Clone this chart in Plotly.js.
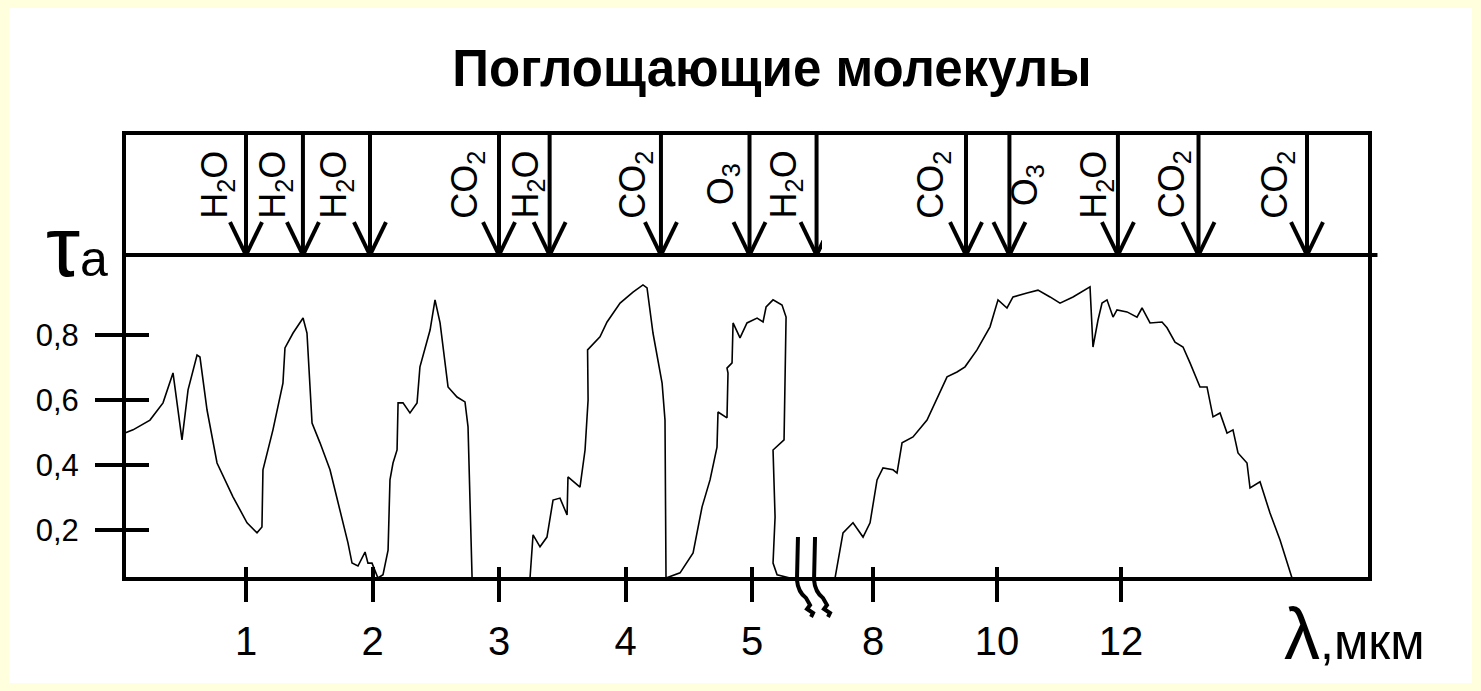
<!DOCTYPE html>
<html>
<head>
<meta charset="utf-8">
<script src="https://cdn.plot.ly/plotly-3.0.1.min.js"></script>
<style>html,body{margin:0;padding:0;background:#FFFFDD;}</style>
</head>
<body>
<div id="chart" style="width:1481px;height:691px;"></div>
<script>
// ---- data: absorption τa vs wavelength λ (µm) ----
const lambdaShort = [0.043,0.107,0.241,0.344,0.423,0.494,0.542,0.613,0.636,0.692,0.771,0.897,1.008,1.087,1.126,1.134,1.213,1.292,1.308,1.372,1.451,1.482,1.522,1.585,1.664,1.743,1.806,1.838,1.885,1.941,1.964,1.996,2.043,2.083,2.123,2.138,2.162,2.194,2.202,2.241,2.296,2.352,2.375,2.455,2.494,2.534,2.597,2.668,2.731,2.755,2.787,3.245,3.269,3.324,3.379,3.427,3.482,3.538,3.545,3.640,3.680,3.704,3.700,3.798,3.854,3.957,4.059,4.138,4.170,4.217,4.289,4.312,4.320,4.431,4.534,4.605,4.668,4.723,4.731,4.802,4.810,4.802,4.842,4.850,4.905,4.960,5.040,5.087,5.111,5.166,5.237,5.269,5.261,5.253,5.166,5.182,5.166,5.198,5.300];
const tauShort = [0.498,0.508,0.538,0.591,0.683,0.477,0.631,0.738,0.732,0.569,0.406,0.302,0.222,0.191,0.209,0.385,0.508,0.652,0.760,0.806,0.852,0.806,0.529,0.468,0.385,0.262,0.160,0.098,0.089,0.132,0.098,0.098,0.052,0.062,0.138,0.354,0.406,0.446,0.591,0.591,0.560,0.591,0.702,0.815,0.908,0.837,0.640,0.609,0.594,0.517,0.052,0.052,0.185,0.148,0.178,0.292,0.298,0.246,0.363,0.332,0.446,0.600,0.754,0.794,0.840,0.898,0.932,0.954,0.945,0.806,0.652,0.538,0.052,0.068,0.129,0.271,0.354,0.455,0.563,0.545,0.683,0.698,0.714,0.837,0.791,0.837,0.852,0.840,0.886,0.908,0.892,0.855,0.609,0.477,0.446,0.240,0.098,0.062,0.052];

const lambdaLong = [7.387,7.516,7.677,7.839,7.952,8.065,8.161,8.323,8.387,8.468,8.645,8.871,9.194,9.355,9.484,9.677,9.887,10.016,10.161,10.258,10.484,10.661,10.855,11.016,11.226,11.500,11.548,11.629,11.694,11.774,11.871,11.935,12.097,12.258,12.339,12.468,12.661,12.742,12.871,13.000,13.113,13.274,13.387,13.484,13.597,13.710,13.806,13.887,14.032,14.081,14.242,14.403,14.565,14.677,14.758];
const tauLong = [0.052,0.191,0.222,0.178,0.222,0.354,0.391,0.385,0.375,0.468,0.486,0.538,0.671,0.686,0.702,0.754,0.825,0.908,0.883,0.917,0.929,0.938,0.917,0.898,0.917,0.948,0.763,0.846,0.898,0.908,0.855,0.877,0.871,0.855,0.883,0.837,0.840,0.822,0.778,0.763,0.714,0.640,0.640,0.548,0.560,0.498,0.508,0.437,0.406,0.329,0.348,0.252,0.169,0.098,0.052];

// absorbing molecules and the wavelength of their band (µm)
const molecules = ['H<sub>2</sub>O','H<sub>2</sub>O','H<sub>2</sub>O','CO<sub>2</sub>','H<sub>2</sub>O','CO<sub>2</sub>','O<sub>3</sub>','H<sub>2</sub>O','CO<sub>2</sub>','O<sub>3</sub>','H<sub>2</sub>O','CO<sub>2</sub>','CO<sub>2</sub>'];
const bandWave = [1.0,1.45,1.98,3.0,3.4,4.28,4.98,5.51,9.5,10.2,11.95,13.25,15.0];

// tick labels
const shortTicks = [1,2,3,4,5];
const longTicks = [8,10,12];
const tauTicks = [0.2,0.4,0.6,0.8];
const tauTickText = ['0,2','0,4','0,6','0,8'];

// ---- layout helpers ----
const L = 124, R = 1370, T = 133, B = 579;
const P = (px, py) => ((px - L) / (R - L)).toFixed(4) + ',' + ((B - py) / (B - T)).toFixed(4);
const yRange = [0.049, 1.4215];
const ySep = 1.046;
const xRangeShort = [0.0356, 5.553];
const xRangeLong = [7.177, 16.016];
const splitAt = (822 - L) / (R - L);
const FONT = 'Liberation Sans, Arial, sans-serif';
const labelOffsetPx = [-29,-28,-34,-32,-22,-26,-27,-31,-33,17,-22,-25,-30];

const traces = [
  {x: lambdaShort, y: tauShort, xaxis: 'x', yaxis: 'y', mode: 'lines', line: {color: '#000', width: 1.6}, hoverinfo: 'skip'},
  {x: lambdaLong, y: tauLong, xaxis: 'x2', yaxis: 'y', mode: 'lines', line: {color: '#000', width: 1.6}, hoverinfo: 'skip'},
  {x: [], y: [], xaxis: 'x3', yaxis: 'y2', mode: 'lines'},
  {x: [], y: [], xaxis: 'x4', yaxis: 'y2', mode: 'lines'}
];

const shapes = [];
// white panel
shapes.push({type: 'rect', xref: 'paper', yref: 'paper', layer: 'below',
  x0: (9 - L) / (R - L), x1: (1472 - L) / (R - L), y0: (B - 683) / (B - T), y1: (B - 8) / (B - T),
  fillcolor: '#FFFFFF', line: {width: 0}});
// frame
shapes.push({type: 'rect', xref: 'paper', yref: 'paper', x0: 0, x1: 1, y0: 0, y1: 1, line: {color: '#000', width: 4}});
// separator of the molecule band
shapes.push({type: 'line', xref: 'paper', yref: 'y', x0: 0, x1: 1.006, y0: ySep, y1: ySep, line: {color: '#000', width: 4}});

const annotations = [];
bandWave.forEach((w, i) => {
  const ax = w < 7 ? 'x' : 'x2';
  shapes.push({type: 'line', xref: ax, yref: 'paper', x0: w, x1: w, y0: (ySep - yRange[0]) / (yRange[1] - yRange[0]), y1: 1, line: {color: '#000', width: 4}});
  [-16, 16].forEach(d => shapes.push({type: 'line', xref: ax, yref: 'y', xsizemode: 'pixel', xanchor: w,
    x0: d, x1: 0, y0: ySep + 33 / 325, y1: ySep, line: {color: '#000', width: 4}}));
  annotations.push({xref: ax, yref: 'y', x: w, y: 1.262, xshift: labelOffsetPx[i], text: molecules[i],
    textangle: -90, showarrow: false, xanchor: 'center', yanchor: 'middle',
    font: {family: FONT, size: 36, color: '#000'}});
});

// axis break marks
const brk = (dx) => 'M' + P(798 + dx, 537) + ' L' + P(797 + dx, 580) + ' Q' + P(798 + dx, 592) + ' ' + P(806 + dx, 598)
  + ' L' + P(810 + dx, 605) + ' L' + P(807 + dx, 609) + ' L' + P(813 + dx, 613) + ' L' + P(811 + dx, 617);
[0, 17].forEach(dx => shapes.push({type: 'path', xref: 'paper', yref: 'paper', path: brk(dx), line: {color: '#000', width: 4}}));

annotations.push({xref: 'paper', yref: 'paper', x: (44 - L) / (R - L), y: (B - 246) / (B - T),
  xanchor: 'left', yanchor: 'middle', showarrow: false,
  text: 'τ<span style="font-size:50px">a</span>', font: {family: FONT, size: 86, color: '#000'}});
annotations.push({xref: 'paper', yref: 'paper', x: (1282 - L) / (R - L), y: (B - 634) / (B - T),
  xanchor: 'left', yanchor: 'middle', showarrow: false,
  text: 'λ<span style="font-size:50px">,мкм</span>', font: {family: FONT, size: 72, color: '#000'}});

const common = {showgrid: false, zeroline: false, showline: false, fixedrange: true, tickcolor: '#000', tickwidth: 4};

const layout = {
  width: 1481, height: 691,
  margin: {l: L, r: 1481 - R, t: T, b: 691 - B, pad: 0},
  paper_bgcolor: '#FFFFDD', plot_bgcolor: '#FFFFFF',
  showlegend: false,
  title: {text: 'Поглощающие молекулы', x: 772 / 1481, xanchor: 'center', y: 1 - 68 / 691, yanchor: 'middle',
    font: {family: FONT, size: 51, weight: 'bold', color: '#000'}},
  xaxis: Object.assign({}, common, {domain: [0, splitAt], range: xRangeShort, anchor: 'y', tickmode: 'array', tickvals: shortTicks,
    ticks: 'outside', ticklen: 22, ticklabelstandoff: 5, tickfont: {family: FONT, size: 40, color: '#000'}}),
  xaxis2: Object.assign({}, common, {domain: [splitAt, 1], range: xRangeLong, anchor: 'y', tickmode: 'array', tickvals: longTicks,
    ticks: 'outside', ticklen: 22, ticklabelstandoff: 5, tickfont: {family: FONT, size: 40, color: '#000'}}),
  xaxis3: Object.assign({}, common, {domain: [0, splitAt], range: xRangeShort, overlaying: 'x', anchor: 'y2', tickmode: 'array', tickvals: shortTicks,
    ticks: 'inside', ticklen: 12, showticklabels: false}),
  xaxis4: Object.assign({}, common, {domain: [splitAt, 1], range: xRangeLong, overlaying: 'x2', anchor: 'y2', tickmode: 'array', tickvals: longTicks,
    ticks: 'inside', ticklen: 12, showticklabels: false}),
  yaxis: Object.assign({}, common, {range: yRange, anchor: 'x', tickmode: 'array', tickvals: tauTicks, ticktext: tauTickText,
    ticks: 'outside', ticklen: 28, ticklabelstandoff: 10, tickfont: {family: FONT, size: 31, color: '#000'}}),
  yaxis2: Object.assign({}, common, {range: yRange, overlaying: 'y', anchor: 'x', side: 'left', tickmode: 'array', tickvals: tauTicks,
    ticks: 'inside', ticklen: 25, showticklabels: false}),
  shapes: shapes,
  annotations: annotations
};

Plotly.newPlot('chart', traces, layout, {displayModeBar: false, staticPlot: true});
</script>
</body>
</html>
